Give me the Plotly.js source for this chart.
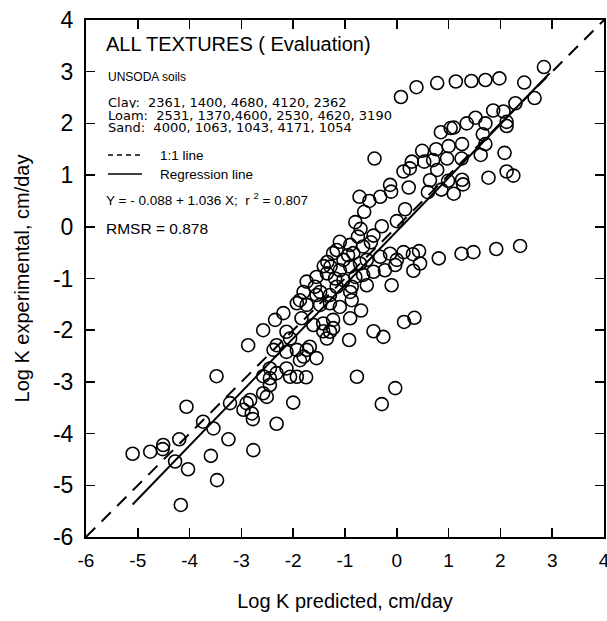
<!DOCTYPE html>
<html>
<head>
<meta charset="utf-8">
<script src="https://cdn.plot.ly/plotly-3.0.1.min.js"></script>
<style>html,body{margin:0;padding:0;background:#fff;}#chart{width:607px;height:621px;}</style>
</head>
<body>
<div id="chart"></div>
<script>
// ---- data ----
const logKPredicted = [
  2.84,0.38,0.08,0.78,1.14,1.44,1.71,1.98,2.46,2.66,
  2.29,1.86,2.06,1.52,2.12,2.12,1.71,1.35,1.10,1.04,
  0.85,1.66,1.26,1.00,0.76,0.49,1.71,1.62,2.08,-0.43,
  0.97,1.25,0.70,0.53,0.29,0.25,0.13,0.78,0.64,0.99,
  1.77,2.12,2.25,1.26,1.28,1.10,0.86,0.60,0.23,-0.13,
  -0.11,-0.32,-0.72,-0.53,-0.63,0.16,0.00,-0.29,-0.80,-0.70,
  -0.45,-0.50,-1.10,-0.90,2.38,1.92,1.48,1.25,0.81,0.43,
  0.13,-0.13,0.31,0.45,0.32,-0.03,-0.23,-0.10,0.14,0.34,
  -0.58,-0.90,-0.69,-0.90,-0.45,-0.26,-0.92,-1.23,-0.77,-0.03,
  -0.29,-0.75,-1.16,-0.94,-0.84,-0.65,-1.03,-1.23,-1.34,-1.41,
  -1.28,-1.10,-0.90,-0.71,-0.58,-0.32,0.00,-0.45,-0.65,-0.80,
  -1.03,-1.19,-1.35,-1.55,-1.74,-1.58,-1.48,-1.16,-0.87,-1.80,
  -1.87,-1.93,-1.74,-1.55,-1.29,-1.10,-0.87,-1.23,-1.42,-1.61,
  -1.84,-2.19,-2.35,-2.58,-1.29,-1.29,-1.48,-1.42,-2.13,-2.06,
  -1.35,-2.32,-2.38,-2.13,-1.93,-1.74,-1.68,-1.80,-1.55,-1.87,
  -2.87,-2.45,-2.13,-2.32,-2.58,-2.45,-2.06,-1.93,-1.75,-2.45,
  -2.58,-2.51,-3.48,-3.22,-2.90,-2.83,-2.96,-2.80,-2.78,-2.00,
  -2.32,-4.06,-3.74,-3.54,-3.25,-2.77,-4.20,-4.51,-4.52,-4.76,
  -5.10,-4.28,-4.03,-3.59,-3.47,-4.17
];
const logKExperimental = [
  3.09,2.70,2.51,2.78,2.81,2.82,2.84,2.87,2.79,2.49,
  2.39,2.25,2.23,2.11,2.03,1.95,2.00,2.00,1.92,1.91,
  1.83,1.79,1.60,1.56,1.50,1.47,1.60,1.39,1.43,1.32,
  1.32,1.32,1.29,1.26,1.26,1.13,1.07,1.10,0.90,0.89,
  0.95,1.07,0.99,0.91,0.82,0.64,0.72,0.67,0.76,0.81,
  0.68,0.58,0.58,0.50,0.29,0.34,0.11,0.01,0.09,-0.04,
  -0.17,-0.30,-0.29,-0.35,-0.37,-0.43,-0.49,-0.52,-0.61,-0.47,
  -0.49,-0.52,-0.53,-0.71,-0.85,-0.74,-0.84,-1.13,-1.84,-1.76,
  -1.13,-1.26,-1.62,-1.77,-2.02,-2.13,-2.19,-1.96,-2.90,-3.12,
  -3.43,-0.19,-0.45,-0.55,-0.51,-0.38,-0.64,-0.51,-0.68,-0.76,
  -0.77,-0.84,-0.77,-0.71,-0.64,-0.58,-0.64,-0.87,-0.93,-0.97,
  -1.03,-1.00,-0.90,-0.97,-1.06,-1.16,-1.26,-1.16,-1.16,-1.26,
  -1.42,-1.48,-1.51,-1.32,-1.48,-1.55,-1.42,-1.80,-1.87,-1.90,
  -1.77,-1.67,-1.80,-2.00,-2.03,-1.32,-1.51,-2.02,-2.03,-2.16,
  -2.16,-2.29,-2.38,-2.42,-2.38,-2.38,-2.32,-2.51,-2.54,-2.58,
  -2.29,-2.74,-2.74,-2.83,-2.89,-2.93,-2.90,-2.90,-2.91,-3.06,
  -3.22,-3.29,-2.89,-3.41,-3.41,-3.35,-3.54,-3.61,-3.72,-3.40,
  -3.81,-3.48,-3.77,-3.90,-4.11,-4.32,-4.11,-4.22,-4.30,-4.35,
  -4.39,-4.54,-4.69,-4.43,-4.90,-5.38
];
const oneToOneX = [-6, 4];
const oneToOneY = [-6, 4];
const regressionX = [-5.10, 2.95];
const regressionY = [-5.37, 2.97];
const tickValues = [-6,-5,-4,-3,-2,-1,0,1,2,3,4];
const tickLabels = ['-6','-5','-4','-3','-2','-1','0','1','2','3','4'];
const headerText = 'ALL TEXTURES ( Evaluation)';
const infoLines = [
  'UNSODA soils',
  'Clay:  2361, 1400, 4680, 4120, 2362',
  'Loam:  2531, 1370,4600, 2530, 4620, 3190',
  'Sand:  4000, 1063, 1043, 4171, 1054'
];
const legendLabels = ['1:1 line', 'Regression line'];
const equationText = 'Y = - 0.088 + 1.036 X;  r <sup>2</sup> = 0.807';
const rmsrText = 'RMSR = 0.878';

// ---- layout helpers (pixel -> paper) ----
const L = 86, R = 604, T = 20, B = 537;
const px = x => (x - L) / (R - L);
const py = y => (B - y) / (B - T);
const FONT = 'Arial, "Liberation Sans", sans-serif';
const WIDE = '"DejaVu Sans", Arial, sans-serif';

const traces = [
  {x: oneToOneX, y: oneToOneY, mode: 'lines', name: legendLabels[0], showlegend: false,
   line: {color: '#000', width: 2, dash: '13px,9px'}, hoverinfo: 'skip'},
  {x: regressionX, y: regressionY, mode: 'lines', name: legendLabels[1], showlegend: false,
   line: {color: '#000', width: 2}, hoverinfo: 'skip'},
  {x: logKPredicted, y: logKExperimental, mode: 'markers', showlegend: false,
   marker: {symbol: 'circle-open', size: 13, color: '#000', line: {width: 1.6, color: '#000'}}}
];

function axis(titleText, tfs, standoff, tls) {
  return {
    range: [-6, 4], tickmode: 'array', tickvals: tickValues, ticktext: tickLabels,
    ticks: 'inside', ticklen: 9, tickwidth: 1.5, tickcolor: '#000',
    showline: true, linewidth: 2, linecolor: '#000', mirror: 'ticks',
    showgrid: false, zeroline: false, fixedrange: true,
    tickfont: {family: FONT, size: tfs, color: '#000'},
    ticklabelstandoff: tls, ticklabeloverflow: 'allow',
    title: {text: titleText, font: {family: FONT, size: 20, color: '#000'}, standoff: standoff}
  };
}

const annotations = [
  {text: headerText, x: px(105), y: py(44), size: 20},
  {text: infoLines[0], x: px(107), y: py(77), size: 12},
  {text: infoLines[1], x: px(107), y: py(102), size: 13, h: 12, f: WIDE},
  {text: infoLines[2], x: px(107), y: py(114.5), size: 13, h: 12, f: WIDE},
  {text: infoLines[3], x: px(107), y: py(127), size: 13, h: 12, f: WIDE},
  {text: legendLabels[0], x: px(159), y: py(155), size: 13.5},
  {text: legendLabels[1], x: px(159), y: py(174), size: 13.5},
  {text: equationText, x: px(105), y: py(199), size: 13.5},
  {text: rmsrText, x: px(105), y: py(228), size: 15.5}
].map(a => {
  const o = {
    text: a.text, x: a.x, y: a.y, xref: 'paper', yref: 'paper',
    xanchor: 'left', yanchor: 'middle', showarrow: false, borderpad: 0,
    font: {family: a.f || FONT, size: a.size, color: '#000'}
  };
  if (a.h) o.height = a.h;
  return o;
});

const shapes = [
  {type: 'line', xref: 'paper', yref: 'paper', x0: px(108), x1: px(143), y0: py(155), y1: py(155),
   line: {color: '#000', width: 1.5, dash: '5px,4px'}},
  {type: 'line', xref: 'paper', yref: 'paper', x0: px(108), x1: px(142), y0: py(174), y1: py(174),
   line: {color: '#000', width: 1.5}}
];

const layout = {
  width: 607, height: 621,
  margin: {l: L, r: 607 - R, t: T, b: 621 - B},
  paper_bgcolor: '#fff', plot_bgcolor: '#fff',
  showlegend: false,
  xaxis: axis('Log K predicted, cm/day', 19, 24, 5),
  yaxis: axis('Log K experimental, cm/day', 23, 18, 6),
  annotations: annotations,
  shapes: shapes
};

Plotly.newPlot('chart', traces, layout, {displayModeBar: false, staticPlot: true});
</script>
</body>
</html>
